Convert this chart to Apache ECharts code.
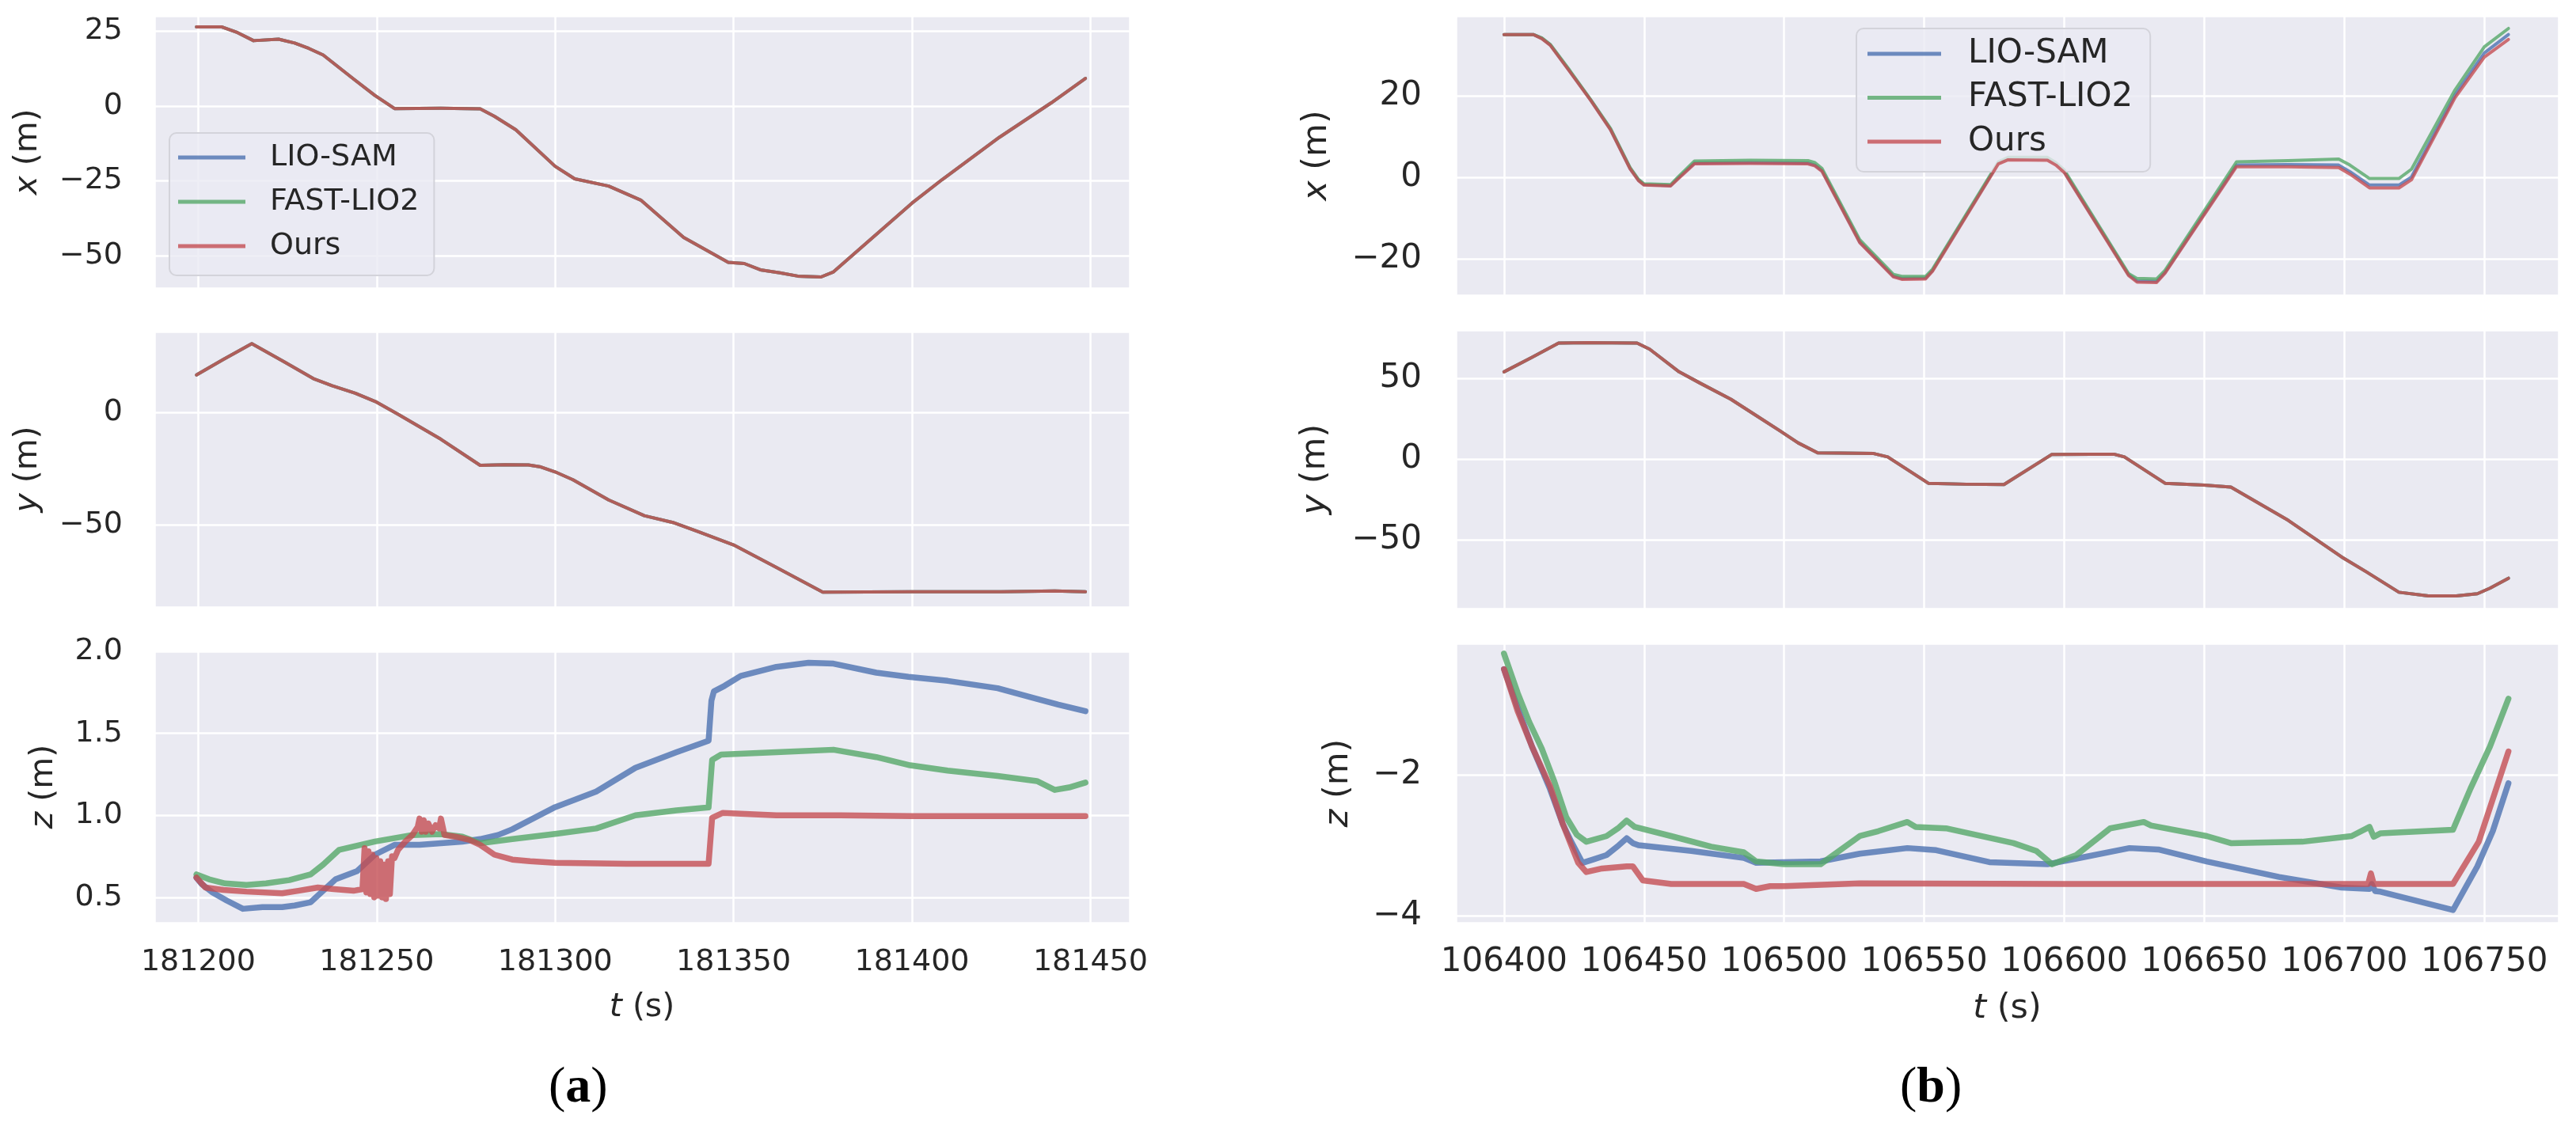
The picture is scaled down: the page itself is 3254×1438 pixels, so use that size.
<!DOCTYPE html>
<html><head><meta charset="utf-8">
<script src="https://cdn.jsdelivr.net/npm/echarts@6/dist/echarts.min.js"></script>
<style>html,body{margin:0;padding:0;background:#fff}#c{width:3254px;height:1438px}</style>
</head><body><div id="c"></div>
<script>
const names = ['LIO-SAM', 'FAST-LIO2', 'Ours'];
const colors = ['rgba(76,114,176,0.8)', 'rgba(85,168,104,0.8)', 'rgba(196,78,82,0.8)'];

// ---------- panel (a): t in s, values in m ----------
const aX = [[181199.5,26.4],[181206.5,26.4],[181211,24.5],[181215.5,21.8],[181222.5,22.3],[181227,21],[181231,19.2],[181235,17],[181243.5,9],[181249.5,3.5],[181255,-0.9],[181268,-0.8],[181279,-1],[181283,-3.5],[181289,-8],[181300,-20.2],[181305.5,-24.4],[181315,-26.8],[181324,-31.5],[181336,-44],[181348.5,-52.3],[181353,-52.7],[181357.5,-54.8],[181363,-55.8],[181368,-56.9],[181374.5,-57.2],[181378,-55.5],[181400,-32.5],[181408.5,-24.6],[181424.5,-10.5],[181439,1],[181448.6,9.2]];
const aY = [[181199.5,16.6],[181207,23.5],[181215,30.5],[181224,22.5],[181232.5,14.8],[181237.5,11.8],[181244,8.5],[181250,4.5],[181256,-0.9],[181268,-12],[181279,-23.6],[181286,-23.3],[181292.5,-23.4],[181296,-24.3],[181300,-26.5],[181305,-30],[181315,-39],[181325,-46],[181333,-49],[181340,-53],[181350,-59],[181362,-69],[181375,-80],[181400,-79.8],[181425,-79.8],[181440,-79.5],[181448.6,-79.8]];
const aZ_lio = [[181199.5,0.62],[181201,0.58],[181204,0.53],[181208,0.48],[181212.5,0.43],[181218,0.44],[181223.5,0.44],[181227,0.45],[181231.5,0.47],[181235,0.54],[181238.5,0.61],[181244.5,0.66],[181249.5,0.76],[181255,0.82],[181262,0.82],[181268,0.83],[181274,0.84],[181279,0.855],[181284,0.88],[181288,0.915],[181300,1.05],[181311.5,1.145],[181322.5,1.29],[181334,1.385],[181343,1.455],[181343.8,1.7],[181344.5,1.756],[181347.5,1.79],[181352,1.85],[181362,1.905],[181371,1.93],[181378,1.925],[181390,1.87],[181399,1.845],[181410,1.82],[181424,1.775],[181435,1.71],[181441,1.675],[181448.6,1.635]];
const aZ_fast = [[181199.5,0.64],[181203,0.61],[181207.5,0.585],[181213.5,0.575],[181219,0.585],[181225.5,0.605],[181231.5,0.64],[181235,0.7],[181239.5,0.79],[181249.5,0.84],[181260,0.88],[181268,0.885],[181274,0.87],[181279,0.83],[181288,0.855],[181300,0.887],[181311.5,0.92],[181322.5,1.0],[181334,1.03],[181343,1.048],[181344,1.338],[181346.5,1.37],[181362,1.385],[181378,1.4],[181390,1.355],[181399.5,1.305],[181410,1.273],[181424,1.24],[181435,1.209],[181440,1.155],[181444,1.17],[181448.6,1.2]];
const aZ_ours = [[181199.5,0.62],[181202,0.56],[181207,0.545],[181213.5,0.535],[181223.5,0.525],[181228,0.54],[181233.5,0.56],[181238,0.55],[181243.5,0.54],[181246,0.55],[181246.6,0.8],[181247.1,0.53],[181247.7,0.78],[181248.2,0.52],[181248.8,0.76],[181249.3,0.5],[181249.9,0.74],[181250.4,0.51],[181251,0.72],[181251.5,0.5],[181252.1,0.7],[181252.6,0.49],[181253.2,0.72],[181253.7,0.52],[181254.3,0.75],[181255,0.74],[181256,0.79],[181258,0.84],[181260,0.88],[181261.5,0.93],[181262,0.98],[181262.6,0.9],[181263.2,0.97],[181263.8,0.9],[181264.5,0.95],[181265.5,0.9],[181266.5,0.94],[181267.5,0.92],[181268,0.98],[181269,0.88],[181272,0.87],[181276,0.85],[181279,0.82],[181283,0.76],[181288,0.73],[181293,0.72],[181300,0.71],[181320,0.705],[181343,0.705],[181344,0.985],[181347,1.015],[181362,1.0],[181380,1.0],[181400,0.995],[181420,0.995],[181448.6,0.995]];

// ---------- panel (b) ----------
const bX_lio = [[106400,35],[106410.5,35],[106413.5,34.1],[106416.5,32.5],[106423.5,26],[106431,18.9],[106438,11.8],[106445,2.2],[106448,-0.7],[106450,-1.8],[106459.5,-2],[106462,-0.3],[106468,3.5],[106488,3.6],[106508.5,3.5],[106511,3],[106513.5,1.7],[106527,-15.8],[106539,-24.2],[106542,-24.8],[106550.5,-24.7],[106553,-22.8],[106576.5,3.5],[106580,4.5],[106594,4.4],[106597,3.2],[106600,1.4],[106623,-23.9],[106626,-25.4],[106633,-25.5],[106636,-23.3],[106661.5,3],[106680,3.1],[106698,3],[106702,1.4],[106709,-1.9],[106719.5,-1.9],[106724,0.1],[106739.5,20.2],[106750,30.5],[106758.6,35]];
const bX_fast = [[106400,35],[106410.5,35],[106413.5,34.2],[106416.5,32.6],[106423.5,26.2],[106431,19],[106438,12],[106445,2.4],[106448,-0.5],[106450,-1.6],[106459.5,-1.8],[106462,0],[106468,4],[106488,4.2],[106508.5,4.1],[106511,3.6],[106513.5,2.2],[106527,-15.3],[106539,-23.8],[106542,-24.3],[106550.5,-24.3],[106553,-22.5],[106576.5,3.8],[106580,4.9],[106594,4.9],[106597,3.6],[106600,1.8],[106623,-23.6],[106626,-24.8],[106633,-24.9],[106636,-22.8],[106661.5,3.8],[106680,4.1],[106698,4.5],[106702,3],[106709,-0.3],[106719.5,-0.3],[106724,2],[106739.5,21.4],[106750,32],[106758.6,36.5]];
const bX_ours = [[106400,35],[106410.5,35],[106413.5,34],[106416.5,32.4],[106423.5,25.9],[106431,18.8],[106438,11.7],[106445,2.1],[106448,-0.8],[106450,-1.9],[106459.5,-2.1],[106462,-0.5],[106468,3.3],[106488,3.4],[106508.5,3.3],[106511,2.8],[106513.5,1.5],[106527,-16],[106539,-24.4],[106542,-25],[106550.5,-24.9],[106553,-23],[106576.5,3.3],[106580,4.3],[106594,4.2],[106597,3],[106600,1.2],[106623,-24.1],[106626,-25.7],[106633,-25.8],[106636,-23.5],[106661.5,2.6],[106680,2.6],[106698,2.4],[106702,0.8],[106709,-2.6],[106719.5,-2.6],[106724,-0.6],[106739.5,19.5],[106750,29.5],[106758.6,33.8]];
const bY = [[106400,54],[106410,63],[106419.5,71.8],[106430,72.1],[106447.5,71.8],[106452,68],[106462.5,54],[106470,47],[106481,37],[106490,27],[106498.5,17.5],[106505,10],[106512,3.8],[106520,3.7],[106532,3.4],[106537,1.3],[106551.5,-15],[106565,-15.6],[106578.5,-15.8],[106595.5,2.8],[106610,3],[106618,2.9],[106621.5,1.3],[106636,-15],[106650,-16.2],[106659.5,-17.4],[106680,-38],[106699,-60.6],[106708,-70],[106719.5,-82.5],[106730,-84.8],[106740,-84.8],[106747.5,-83.4],[106752,-80],[106758.6,-73.8]];
const bZ_lio = [[106400,-0.5],[106404.9,-1.05],[106410,-1.6],[106416.4,-2.2],[106421,-2.7],[106424,-2.95],[106428,-3.25],[106432,-3.2],[106436.6,-3.14],[106441,-3.0],[106443.8,-2.9],[106446,-2.97],[106448,-3.0],[106466.9,-3.08],[106485.6,-3.18],[106490,-3.25],[106513,-3.23],[106527,-3.12],[106544,-3.04],[106554.3,-3.07],[106573.3,-3.24],[106594,-3.27],[106604.3,-3.19],[106623.3,-3.04],[106633.6,-3.06],[106650.9,-3.23],[106676.7,-3.45],[106699,-3.6],[106709,-3.62],[106709.8,-3.55],[106711,-3.65],[106713,-3.66],[106738.8,-3.92],[106747.5,-3.3],[106753,-2.8],[106758.6,-2.12]];
const bZ_fast = [[106400,-0.28],[106404.9,-0.84],[106409,-1.25],[106413.5,-1.63],[106418,-2.1],[106422.2,-2.6],[106426,-2.85],[106429.4,-2.95],[106436.6,-2.87],[106441,-2.75],[106443.8,-2.65],[106446.7,-2.74],[106459.7,-2.87],[106474,-3.02],[106485.6,-3.1],[106490,-3.23],[106500,-3.27],[106513,-3.27],[106527,-2.87],[106533.6,-2.8],[106544,-2.67],[106547,-2.74],[106557.8,-2.76],[106581.9,-2.97],[106590,-3.08],[106595.7,-3.27],[106604.3,-3.14],[106616.4,-2.76],[106628.4,-2.67],[106631,-2.72],[106650.9,-2.87],[106659.5,-2.97],[106685,-2.95],[106702.6,-2.87],[106709,-2.74],[106710.5,-2.88],[106713,-2.83],[106738.8,-2.78],[106745,-2.2],[106752,-1.6],[106758.6,-0.92]];
const bZ_ours = [[106400,-0.5],[106404.9,-1.1],[106410,-1.6],[106416.4,-2.16],[106421,-2.7],[106426.5,-3.25],[106429.4,-3.38],[106435,-3.33],[106443.8,-3.3],[106446,-3.3],[106449.6,-3.5],[106459.7,-3.55],[106485.6,-3.55],[106490,-3.62],[106495,-3.58],[106500,-3.58],[106527,-3.54],[106600,-3.55],[106680,-3.55],[106708.5,-3.55],[106709.5,-3.4],[106710.5,-3.55],[106738.8,-3.55],[106748,-2.95],[106758.6,-1.67]];

const FONT = 'DejaVu Sans';
const TXT = '#262626';
const BG = '#EAEAF2';

function fmt(iv, dec) {
  return function (v) {
    const k = v / iv;
    if (Math.abs(k - Math.round(k)) > 1e-6) return '';
    const s = dec ? v.toFixed(dec) : String(Math.round(v));
    return s.replace('-', '\u2212');
  };
}

const grids = [
  {left:195, top:20, width:1232, height:344},
  {left:195, top:419, width:1232, height:348},
  {left:195, top:822, width:1232, height:344},
  {left:1839, top:20, width:1393, height:353},
  {left:1839, top:417, width:1393, height:352},
  {left:1839, top:813, width:1393, height:353}
].map(g => Object.assign({show:true, backgroundColor:BG, borderWidth:0, containLabel:false}, g));

const tRange = [[181187.7, 181461], [106382.8, 106776.5]];
const yCfg = [
  {min:-60.9, max:30.1, iv:25, dec:0, nm:'x', gap:139, fs:38, ns:41, m:40},
  {min:-86.6, max:35.9, iv:50, dec:0, nm:'y', gap:139, fs:38, ns:41, m:40},
  {min:0.345, max:2.005, iv:0.5, dec:1, nm:'z', gap:119, fs:38, ns:41, m:40},
  {min:-28.9, max:39.6, iv:20, dec:0, nm:'x', gap:154, fs:42, ns:43, m:43},
  {min:-92.6, max:79.9, iv:50, dec:0, nm:'y', gap:156, fs:42, ns:43, m:43},
  {min:-4.1, max:-0.135, iv:2, dec:0, nm:'z', gap:127, fs:42, ns:43, m:43}
];

const splitLine = {show:true, lineStyle:{color:'#ffffff', width:2.5}};

const xAxes = grids.map((g, i) => {
  const p = i < 3 ? 0 : 1;
  const bottom = (i % 3) === 2;
  const fs = p === 0 ? 38 : 42;
  const ns = p === 0 ? 41 : 43;
  return {
    type:'value', gridIndex:i, min:tRange[p][0], max:tRange[p][1],
    minInterval:50, maxInterval:50,
    axisLine:{show:false}, axisTick:{show:false}, splitLine,
    axisLabel:{show:bottom, margin: p === 0 ? 31 : 29, fontSize:fs, color:TXT, fontFamily:FONT, formatter:fmt(50, 0)},
    name: bottom ? '{i|t} (s)' : '', nameLocation:'middle', nameGap:87,
    nameTextStyle:{fontSize:ns, color:TXT, fontFamily:FONT, rich:{i:{fontStyle:'italic', fontSize:ns, color:TXT, fontFamily:FONT}}}
  };
});

const yAxes = yCfg.map((c, i) => ({
  type:'value', gridIndex:i, min:c.min, max:c.max, minInterval:c.iv, maxInterval:c.iv,
  axisLine:{show:false}, axisTick:{show:false}, splitLine,
  axisLabel:{margin:c.m, fontSize:c.fs, color:TXT, fontFamily:FONT, formatter:fmt(c.iv, c.dec)},
  name:'{i|' + c.nm + '} (m)', nameLocation:'middle', nameGap:c.gap,
  nameTextStyle:{fontSize:c.ns, color:TXT, fontFamily:FONT, rich:{i:{fontStyle:'italic', fontSize:c.ns, color:TXT, fontFamily:FONT}}}
}));

const panelData = [
  [aX, aX, aX],
  [aY, aY, aY],
  [aZ_lio, aZ_fast, aZ_ours],
  [bX_lio, bX_fast, bX_ours],
  [bY, bY, bY],
  [bZ_lio, bZ_fast, bZ_ours]
];

const series = [];
panelData.forEach((arr, gi) => {
  const w = (gi % 3) === 2 ? 7.5 : 4;
  arr.forEach((d, k) => {
    series.push({
      type:'line', name:names[k], xAxisIndex:gi, yAxisIndex:gi, data:d,
      symbol:'none', showSymbol:false, smooth:false, animation:false,
      lineStyle:{color:colors[k], width:w, join:'round', cap:'round'},
      itemStyle:{color:colors[k]}, emphasis:{disabled:true}, z:2 + k
    });
  });
});

function legend(left, top, pad, iw, fs, gap, tpad) {
  return {
    orient:'vertical', left, top, padding:pad, itemWidth:iw, itemHeight:5, itemGap:gap, icon:'rect',
    backgroundColor:'rgba(234,234,242,0.8)', borderColor:'#d3d3da', borderWidth:2, borderRadius:9,
    textStyle:{fontSize:fs, lineHeight:fs, color:TXT, fontFamily:FONT, padding:[0,0,0,tpad]},
    data:names.map((n, k) => ({name:n, itemStyle:{color:colors[k]}})),
    selectedMode:false
  };
}

const option = {
  backgroundColor:'#ffffff',
  animation:false,
  grid:grids, xAxis:xAxes, yAxis:yAxes, series,
  legend:[
    legend(214, 168, [12,19,18,11], 85, 38, 18, 26),
    legend(2345, 36, [11,22,17,14], 93, 42, 13.5, 29)
  ],
  graphic:[
    {type:'text', left:693, top:1343, style:{text:'{p|(}{b|a}{p|)}', rich:{p:{fontFamily:'Liberation Serif', fontSize:64, fill:'#000'}, b:{fontFamily:'Liberation Serif', fontSize:64, fontWeight:'bold', fill:'#000'}}}},
    {type:'text', left:2400, top:1343, style:{text:'{p|(}{b|b}{p|)}', rich:{p:{fontFamily:'Liberation Serif', fontSize:64, fill:'#000'}, b:{fontFamily:'Liberation Serif', fontSize:64, fontWeight:'bold', fill:'#000'}}}}
  ]
};

const chart = echarts.init(document.getElementById('c'), null, {renderer:'canvas', width:3254, height:1438});
chart.setOption(option);
</script></body></html>
